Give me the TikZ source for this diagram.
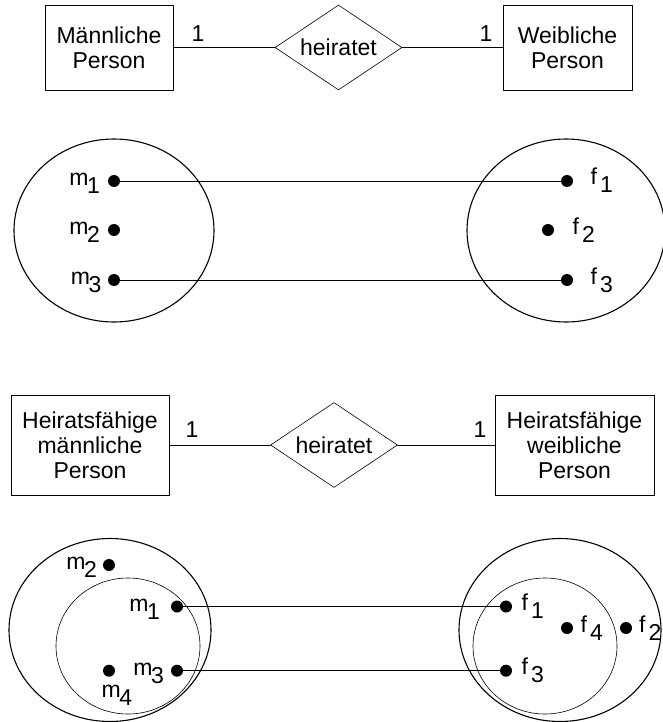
\documentclass[tikz,border=0pt]{standalone}
\usepackage{fontspec}
\setmainfont{Liberation Sans}
\usetikzlibrary{shapes.geometric,calc,positioning}
\newcommand{\msub}[1]{m\kern-1.5pt\raisebox{-8pt}{#1}}
\newcommand{\fsub}[1]{f\kern3pt\raisebox{-8pt}{#1}}
\begin{document}
\begin{tikzpicture}[x=1pt,y=-1pt,line join=round,line cap=round,
  every node/.style={font=\fontsize{23}{25}\selectfont},
  entity/.style={draw,line width=0.9pt,align=center,inner sep=0pt},
  rel/.style={draw,diamond,line width=0.6pt,inner sep=0pt,aspect=1.5,minimum width=127pt,minimum height=85pt},
  dot/.style={circle,fill,inner sep=0pt,minimum size=12pt},
  lab/.style={inner sep=0pt}]
\useasboundingbox (0,0) rectangle (662,722);
% oberes ER-Diagramm
\node[entity,minimum width=128pt,minimum height=85pt] (mp) at (109,47.5) {Männliche\\Person};
\node[rel] (hr) at (338.5,47.5) {heiratet};
\node[entity,minimum width=129pt,minimum height=85pt] (wp) at (567.5,47.5) {Weibliche\\Person};
\draw[line width=0.9pt] (mp) -- (hr) (hr) -- (wp);
\node[lab] (c1) at (198,34) {1};
\node[lab] (c2) at (486,34) {1};
% obere Mengen
\draw[line width=1.1pt] (114,230.5) ellipse [x radius=100pt, y radius=91.5pt];
\draw[line width=1.1pt] (566,230.5) ellipse [x radius=99pt, y radius=91.5pt];
\foreach \n/\x/\y in {m1/114/181,m2/114/230,m3/114/280,f1/567/181,f2/548/230,f3/567/280}{\node[dot] (\n) at (\x,\y) {};}
\draw[line width=0.8pt] (m1) -- (f1) (m3) -- (f3);
\foreach \i/\dx in {1/-14,2/-14,3/-12.5}{\node[lab,anchor=base east] (lm\i) at ($(m\i)+(\dx,4.5)$) {\msub{\i}};}
\foreach \i/\dx in {1/23.5,2/24.5,3/23.5}{\node[lab,anchor=base west] (lf\i) at ($(f\i)+(\dx,4)$) {\fsub{\i}};}
% unteres ER-Diagramm
\node[entity,minimum width=158pt,minimum height=100pt] (hmp) at (90,445) {Heiratsfähige\\männliche\\Person};
\node[rel] (hhr) at (334,445) {heiratet};
\node[entity,minimum width=159pt,minimum height=100pt] (hwp) at (574.5,445) {Heiratsfähige\\weibliche\\Person};
\draw[line width=0.9pt] (hmp) -- (hhr) (hhr) -- (hwp);
\node[lab] (hc1) at (192,430) {1};
\node[lab] (hc2) at (480,430) {1};
% untere Mengen
\draw[line width=1.1pt] (110,630) ellipse [x radius=101pt, y radius=91.5pt];
\draw[line width=0.6pt] (128,646) ellipse [x radius=72pt, y radius=68pt];
\draw[line width=1.1pt] (560,630) ellipse [x radius=101pt, y radius=91.5pt];
\draw[line width=0.6pt] (545,646) ellipse [x radius=72pt, y radius=68pt];
\foreach \n/\x/\y in {hm1/177/606.5,hm2/109/565,hm3/177/670.7,hm4/109/670.7,hf1/506/606.5,hf2/626/628,hf3/506/670.7,hf4/567/628}{\node[dot] (\n) at (\x,\y) {};}
\draw[line width=0.8pt] (hm1) -- (hf1) (hm3) -- (hf3);
\foreach \i/\dx in {1/-17,2/-12,3/-13}{\node[lab,anchor=base east] (lhm\i) at ($(hm\i)+(\dx,4.5)$) {\msub{\i}};}
\node[lab,anchor=base west] (lhm4) at ($(hm4)+(-7.5,26.3)$) {\msub{4}};
\foreach \i/\dx in {1/15.5,2/13,3/15.5,4/13.5}{\node[lab,anchor=base west] (lhf\i) at ($(hf\i)+(\dx,4)$) {\fsub{\i}};}
\end{tikzpicture}
\end{document}
